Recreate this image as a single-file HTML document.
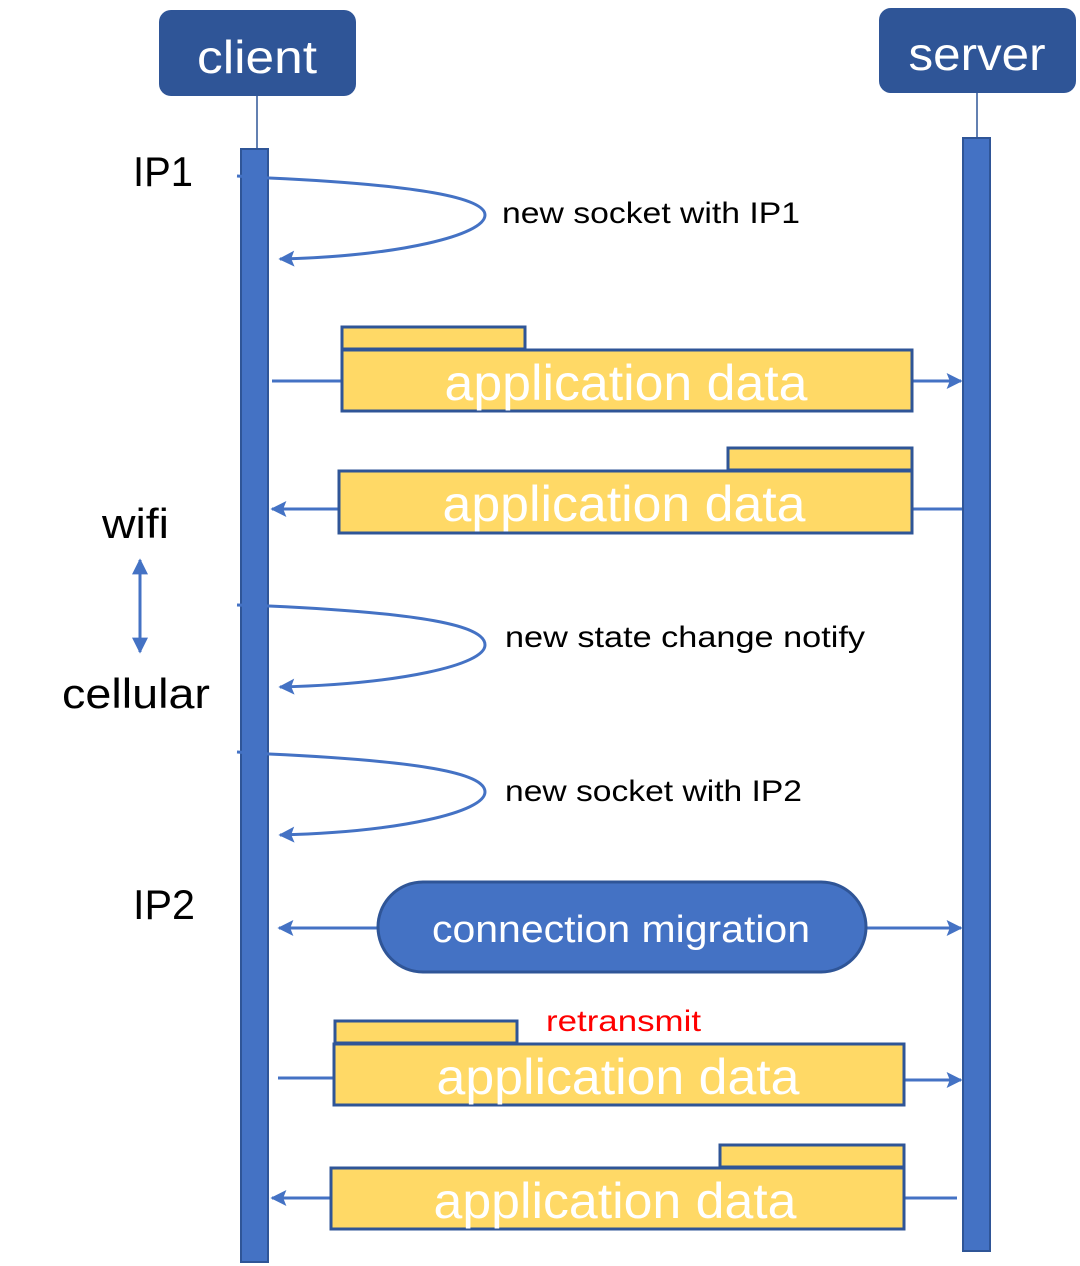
<!DOCTYPE html>
<html><head><meta charset="utf-8"><style>html,body{margin:0;padding:0;background:#fff}svg{display:block}</style></head>
<body>
<svg width="1080" height="1266" viewBox="0 0 1080 1266" xmlns="http://www.w3.org/2000/svg" font-family="Liberation Sans, sans-serif">
<defs>
<marker id="a" viewBox="0 0 10 10" refX="9" refY="5" markerWidth="18" markerHeight="16" markerUnits="userSpaceOnUse" orient="auto-start-reverse"><path d="M0,0L10,5L0,10L2,5z" fill="#4472C4"/></marker>
<marker id="b" viewBox="0 0 10 10" refX="9" refY="5" markerWidth="18" markerHeight="16" markerUnits="userSpaceOnUse" orient="auto-start-reverse"><path d="M0,0L10,5L0,10z" fill="#4472C4"/></marker>
</defs>
<rect x="159" y="10" width="197" height="86" rx="12" fill="#2F5597"/>
<text x="257" y="73" font-size="46" fill="#fff" text-anchor="middle" textLength="120" lengthAdjust="spacingAndGlyphs">client</text>
<rect x="879" y="8" width="197" height="85" rx="12" fill="#2F5597"/>
<text x="977" y="70" font-size="46" fill="#fff" text-anchor="middle" textLength="137" lengthAdjust="spacingAndGlyphs">server</text>
<line x1="257" y1="96" x2="257" y2="148" stroke="#2F5597" stroke-width="1.5"/>
<line x1="977" y1="93" x2="977" y2="137" stroke="#2F5597" stroke-width="1.5"/>
<rect x="241" y="149" width="27" height="1113" fill="#4472C4" stroke="#2F5597" stroke-width="2"/>
<rect x="963" y="138" width="27" height="1113" fill="#4472C4" stroke="#2F5597" stroke-width="2"/>

<g font-size="42" fill="#000">
<text x="133" y="186" textLength="60" lengthAdjust="spacingAndGlyphs">IP1</text>
<text x="133" y="919" textLength="62" lengthAdjust="spacingAndGlyphs">IP2</text>
<text x="102" y="538" textLength="67" lengthAdjust="spacingAndGlyphs">wifi</text>
<text x="62" y="708" textLength="148" lengthAdjust="spacingAndGlyphs">cellular</text>
</g>
<line x1="140" y1="560" x2="140" y2="652" stroke="#4472C4" stroke-width="3" marker-start="url(#b)" marker-end="url(#b)"/>

<g fill="none" stroke="#4472C4" stroke-width="3">
<path d="M237,176 L269,178 C420,185 485,198 485,215 C485,235 400,256 280,259" marker-end="url(#a)"/>
<path d="M237,605 L269,606 C420,613 485,625 485,645 C485,665 400,684 280,687" marker-end="url(#a)"/>
<path d="M237,752 L269,754 C420,761 485,773 485,792 C485,812 400,832 280,835" marker-end="url(#a)"/>
</g>
<g font-size="30" fill="#000">
<text x="502" y="223" textLength="298" lengthAdjust="spacingAndGlyphs">new socket with IP1</text>
<text x="505" y="647" textLength="360" lengthAdjust="spacingAndGlyphs">new state change notify</text>
<text x="505" y="801" textLength="297" lengthAdjust="spacingAndGlyphs">new socket with IP2</text>
</g>

<g stroke="#4472C4" stroke-width="3" fill="none">
<line x1="272" y1="381" x2="341" y2="381"/><line x1="912" y1="381" x2="961" y2="381" marker-end="url(#a)"/>
<line x1="339" y1="509" x2="272" y2="509" marker-end="url(#a)"/><line x1="912" y1="509" x2="962" y2="509"/>
<line x1="378" y1="928" x2="279" y2="928" marker-end="url(#a)"/><line x1="866" y1="928" x2="961" y2="928" marker-end="url(#a)"/>
<line x1="278" y1="1078" x2="334" y2="1078"/><line x1="904" y1="1080" x2="961" y2="1080" marker-end="url(#a)"/>
<line x1="331" y1="1198" x2="272" y2="1198" marker-end="url(#a)"/><line x1="904" y1="1198" x2="957" y2="1198"/>
</g>

<g fill="#FFD966" stroke="#2F5597" stroke-width="3">
<rect x="342" y="327" width="183" height="22"/><rect x="342" y="350" width="570" height="61"/>
<rect x="728" y="448" width="184" height="22"/><rect x="339" y="471" width="573" height="62"/>
<rect x="335" y="1021" width="182" height="22"/><rect x="334" y="1044" width="570" height="61"/>
<rect x="720" y="1145" width="184" height="22"/><rect x="331" y="1168" width="573" height="61"/>
</g>
<g font-size="50" fill="#fff" text-anchor="middle">
<text x="626" y="400" textLength="363" lengthAdjust="spacingAndGlyphs">application data</text>
<text x="624" y="521" textLength="363" lengthAdjust="spacingAndGlyphs">application data</text>
<text x="618" y="1094" textLength="363" lengthAdjust="spacingAndGlyphs">application data</text>
<text x="615" y="1218" textLength="363" lengthAdjust="spacingAndGlyphs">application data</text>
</g>

<rect x="378" y="882" width="488" height="90" rx="45" fill="#4472C4" stroke="#2F5597" stroke-width="3"/>
<text x="621" y="942" font-size="38" fill="#fff" text-anchor="middle" textLength="378" lengthAdjust="spacingAndGlyphs">connection migration</text>
<text x="546" y="1031" font-size="30" fill="#ff0000" textLength="155" lengthAdjust="spacingAndGlyphs">retransmit</text>
</svg>
</body></html>
